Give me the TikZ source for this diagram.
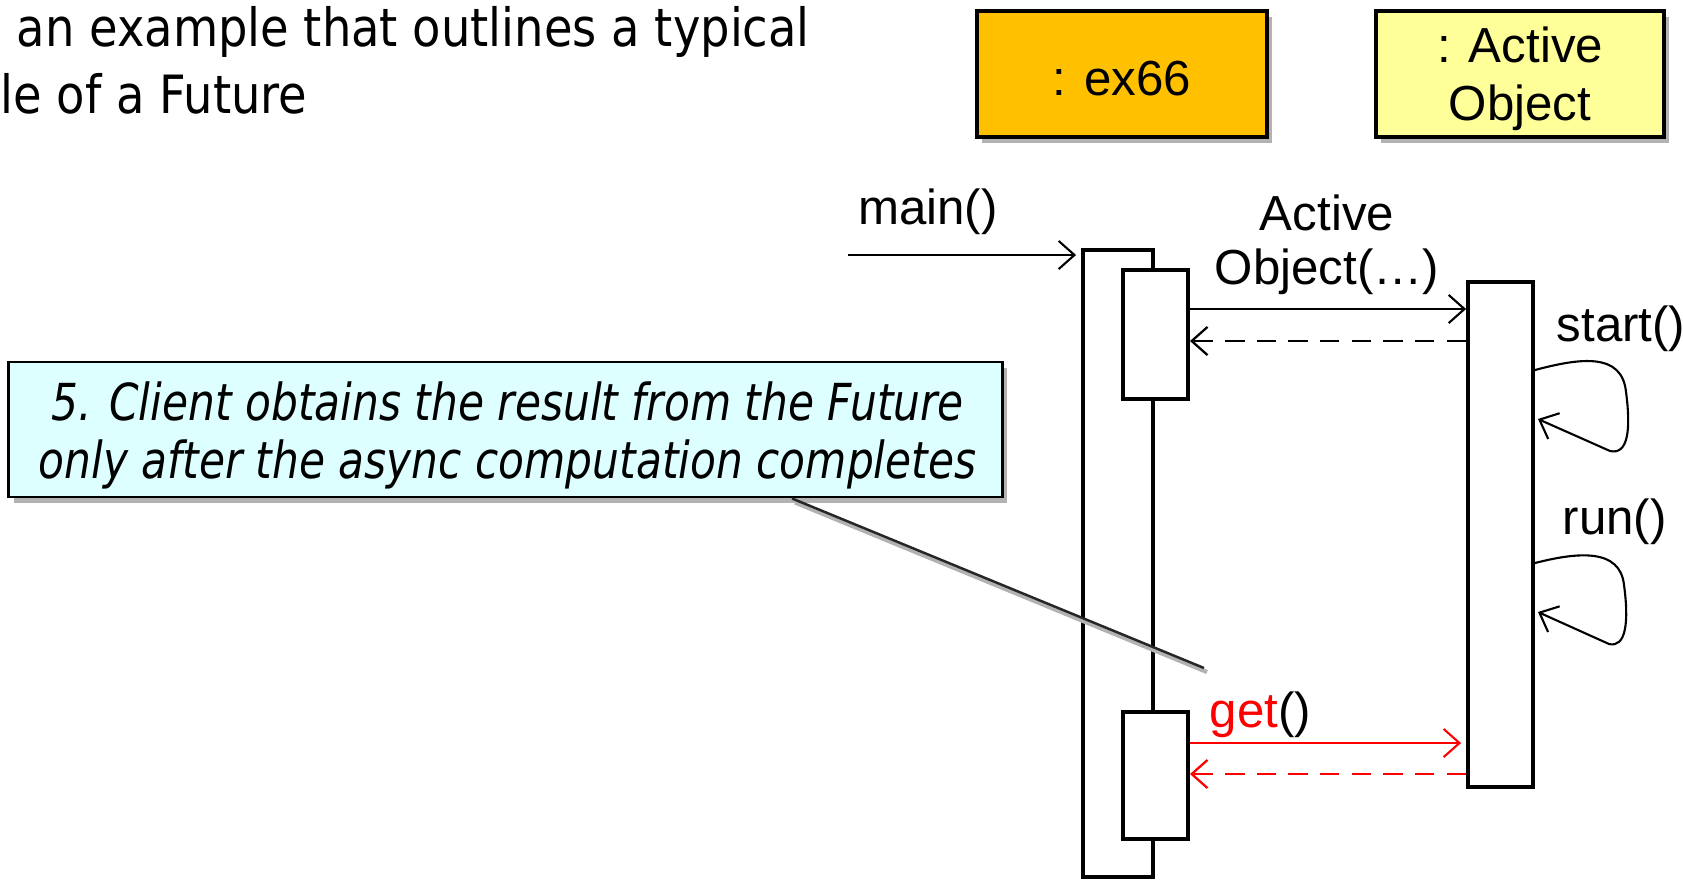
\documentclass[tikz,border=0pt]{standalone}
\usepackage{fontspec}
\setmainfont{Liberation Sans}
\newfontfamily\tahoma[FakeStretch=0.88]{DejaVu Sans}
\newfontfamily\tahomanote[FakeStretch=0.83]{DejaVu Sans}
\usetikzlibrary{arrows.meta,shadows,calc}
\definecolor{exfill}{RGB}{255,192,0}
\definecolor{aofill}{RGB}{255,255,153}
\definecolor{notefill}{RGB}{221,255,255}
\definecolor{msgred}{RGB}{255,0,0}
\tikzset{
  objbox/.style={draw=black, line width=1pt, inner sep=0pt,
    drop shadow={shadow xshift=0.05cm, shadow yshift=-0.06cm, fill=black, opacity=0.3}},
  objtext/.style={inner sep=0pt, align=center, font=\fontsize{14}{16.5}\selectfont},
  actbar/.style={draw=black, line width=1.1pt, fill=white, inner sep=0pt},
  notebox/.style={draw=black, line width=0.8pt, fill=notefill, inner sep=0pt,
    drop shadow={shadow xshift=0.05cm, shadow yshift=-0.06cm, fill=black, opacity=0.3}},
  notetext/.style={inner sep=0pt, align=center,
    font=\tahomanote\itshape\fontsize{14.5}{16.5}\selectfont},
  lbl/.style={inner sep=0pt, font=\fontsize{14}{15.5}\selectfont, align=center},
  title/.style={inner sep=0pt, anchor=west, font=\tahoma\fontsize{15}{18}\selectfont},
  tip/.style={-{Straight Barb[length=4.5pt,width=8pt]}},
  msg/.style={tip, line width=0.6pt},
  ret/.style={tip, line width=0.65pt, dash pattern=on 5.5pt off 3.5pt},
}
\begin{document}
\begin{tikzpicture}[x=0.01cm,y=-0.01cm]
\useasboundingbox (0,0) rectangle (1683,881);
% title (clipped slide text)
\node[title] (t1) at (16,32) {an example that outlines a typical};
\node[title] (t2) at (0,94) {le of a Future};
% object boxes
\node[objbox, fill=exfill, minimum width=2.90cm, minimum height=1.26cm] (ex) at (1122,74) {};
\node[objtext] (extext) at ($(ex.center)+(0,5)$) {: ex66};
\node[objbox, fill=aofill, minimum width=2.88cm, minimum height=1.26cm] (ao) at (1520,74) {};
\node[objtext] (aotext) at ($(ao.center)+(0,5)$) {: Active\\Object};
% activation bars
\node[actbar, minimum width=0.70cm, minimum height=6.27cm] (outer) at (1118,563.5) {};
\node[actbar, minimum width=0.65cm, minimum height=1.29cm] (act1) at (1155.5,334.5) {};
\node[actbar, minimum width=0.65cm, minimum height=1.27cm] (act2) at (1155.5,775.5) {};
\node[actbar, minimum width=0.65cm, minimum height=5.05cm] (aobar) at (1500.5,534.5) {};
% main()
\coordinate (mainstart) at (848,255);
\node[lbl] (mainlbl) at (928,212) {main()};
\draw[msg] (mainstart) -- ($(mainstart -| outer.west)+(-5,0)$);
% constructor call
\coordinate (y1) at (0,309);
\coordinate (y2) at (0,341);
\node[lbl] (ctorlbl) at (1327,245) {Active\\Object(\dots)};
\draw[msg] (act1.east |- y1) -- (aobar.west |- y1);
\draw[ret] (aobar.west |- y2) -- (act1.east |- y2);
% start() self loop
\node[lbl, anchor=west] (startlbl) at (1556,329) {start()};
\coordinate (s1) at (0,370);
\coordinate (s2) at (0,419);
\draw[msg] (aobar.east |- s1) .. controls (1580,358) and (1622,352) .. (1626,392)
   .. controls (1631,430) and (1628,455) .. (1610,451) -- ($(aobar.east |- s2)+(3,0)$);
% run() self loop
\node[lbl, anchor=west] (runlbl) at (1562,522) {run()};
\coordinate (r1) at (0,563);
\coordinate (r2) at (0,612);
\draw[msg] (aobar.east |- r1) .. controls (1578,552) and (1620,548) .. (1624,585)
   .. controls (1629,622) and (1626,648) .. (1609,644) -- ($(aobar.east |- r2)+(3,0)$);
% get()
\coordinate (y3) at (0,743);
\coordinate (y4) at (0,774);
\node[lbl, anchor=west] (getlbl) at (1209,715) {\textcolor{msgred}{get}()};
\draw[msg, draw=msgred] (act2.east |- y3) -- ($(aobar.west |- y3)+(-5,0)$);
\draw[ret, draw=msgred] (aobar.west |- y4) -- (act2.east |- y4);
% note
\node[notebox, minimum width=9.93cm, minimum height=1.35cm] (note) at (505.5,429.5) {};
\node[notetext] (notetxt) at ($(note.center)+(2,6)$)
  {5. Client obtains the result from the Future\\only after the async computation completes};
\coordinate (noteend) at (1204,668);
\coordinate (notefoot) at ($(note.south west)!0.7875!(note.south east)$);
\draw[black!30, line width=1.2pt] ($(notefoot)+(3,4)$) -- ($(noteend)+(3,4)$);
\draw[black!85, line width=0.7pt] (notefoot) -- (noteend);
\end{tikzpicture}
\end{document}
